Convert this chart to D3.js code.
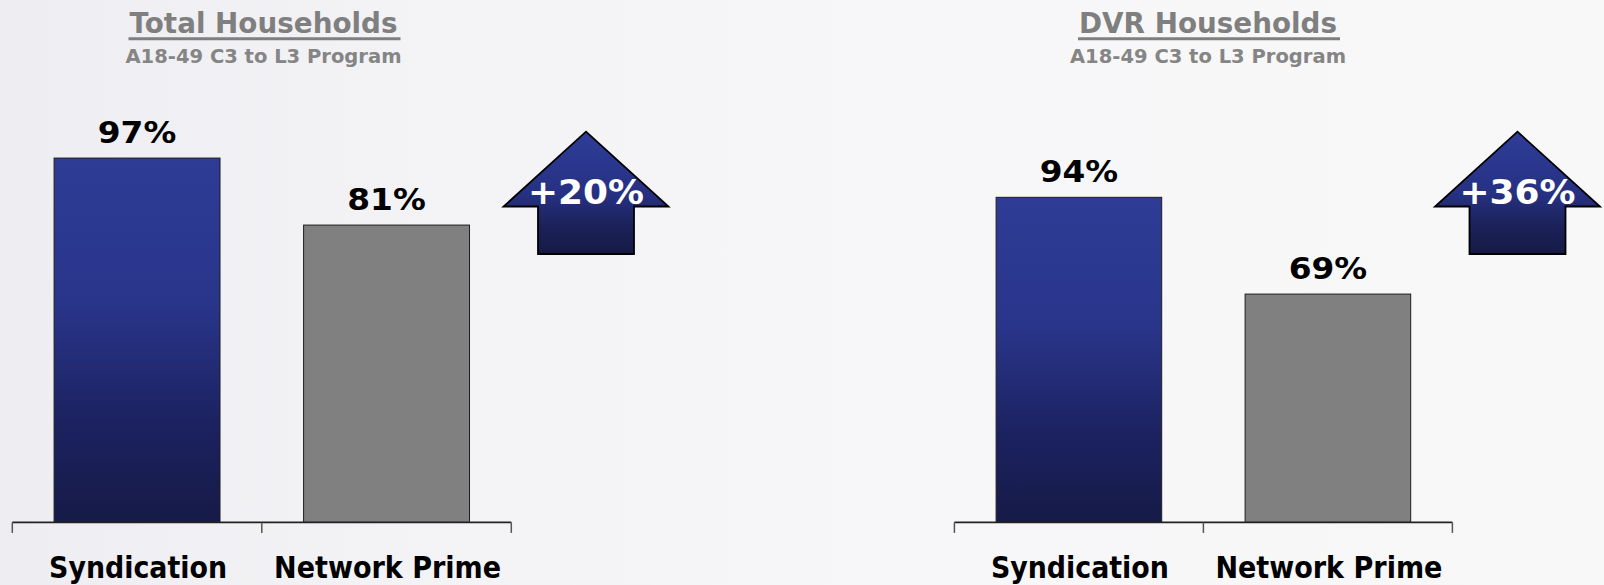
<!DOCTYPE html>
<html>
<head>
<meta charset="utf-8">
<script src="https://cdn.jsdelivr.net/npm/d3@7"></script>
<style>
  html, body { margin: 0; padding: 0; background: #f5f5f7; }
  svg { display: block; }
</style>
</head>
<body>
<svg id="chart" width="1604" height="585"></svg>
<script>
// ---------- data ----------
const categories = ["Syndication", "Network Prime"];
const totalValues = [97, 81];
const dvrValues = [94, 69];
const chartTitles = ["Total Households", "DVR Households"];
const chartSubtitles = ["A18-49 C3 to L3 Program", "A18-49 C3 to L3 Program"];
const changeLabels = ["+20%", "+36%"];
const yDomain = [10, 100];

// ---------- layout / style ----------
const W = 1604, H = 585;
const baseY = 522.4;
const panels = [
  { title: chartTitles[0], sub: chartSubtitles[0], values: totalValues, change: changeLabels[0],
    x0: 12.3, x1: 511.3, yTop: 145.5, titleX: 263.5, titleW: 268, subW: 276, arrowX: 586 },
  { title: chartTitles[1], sub: chartSubtitles[1], values: dvrValues, change: changeLabels[1],
    x0: 954.4, x1: 1452.4, yTop: 174.1, titleX: 1208, titleW: 258, subW: 276, arrowX: 1517.5 }
];
const catWidths = [178, 227];
const FONT = "'DejaVu Sans', Verdana, sans-serif";

const svg = d3.select("#chart");
const defs = svg.append("defs");

const bg = defs.append("linearGradient").attr("id", "bg").attr("x1", 0).attr("x2", 1).attr("y1", 0).attr("y2", 0);
bg.append("stop").attr("offset", "0%").attr("stop-color", "#eeedf1");
bg.append("stop").attr("offset", "25%").attr("stop-color", "#f3f3f6");
bg.append("stop").attr("offset", "60%").attr("stop-color", "#f7f7f9");
bg.append("stop").attr("offset", "100%").attr("stop-color", "#f8f8f8");

const blue = defs.append("linearGradient").attr("id", "blueGrad").attr("x1", 0).attr("x2", 0).attr("y1", 0).attr("y2", 1);
blue.append("stop").attr("offset", "0%").attr("stop-color", "#2e3c96");
blue.append("stop").attr("offset", "40%").attr("stop-color", "#29358a");
blue.append("stop").attr("offset", "72%").attr("stop-color", "#1c2261");
blue.append("stop").attr("offset", "100%").attr("stop-color", "#161a47");

const arrowG = defs.append("linearGradient").attr("id", "arrowGrad").attr("x1", 0).attr("x2", 0).attr("y1", 0).attr("y2", 1);
arrowG.append("stop").attr("offset", "0%").attr("stop-color", "#2f3d98");
arrowG.append("stop").attr("offset", "50%").attr("stop-color", "#263183");
arrowG.append("stop").attr("offset", "78%").attr("stop-color", "#1b2158");
arrowG.append("stop").attr("offset", "100%").attr("stop-color", "#151a44");

svg.append("rect").attr("width", W).attr("height", H).attr("fill", "url(#bg)");

function fit(sel, w) {
  sel.attr("textLength", w).attr("lengthAdjust", "spacingAndGlyphs");
}

panels.forEach((p, pi) => {
  const g = svg.append("g");
  const x = d3.scaleBand().domain(categories).range([p.x0, p.x1])
    .paddingInner(0.335).paddingOuter(0.1675);
  const y = d3.scaleLinear().domain(yDomain).range([baseY, p.yTop]);

  // titles
  const t = g.append("text").attr("x", p.titleX).attr("y", 32.6)
    .attr("text-anchor", "middle").attr("font-family", FONT).attr("font-weight", "bold")
    .attr("font-size", 29).attr("fill", "#7f7f7f").text(p.title);
  fit(t, p.titleW);
  g.append("line").attr("x1", p.titleX - p.titleW / 2 - 1).attr("x2", p.titleX + p.titleW / 2 + 3)
    .attr("y1", 38.8).attr("y2", 38.8).attr("stroke", "#7f7f7f").attr("stroke-width", 3);
  const s = g.append("text").attr("x", p.titleX).attr("y", 63.3)
    .attr("text-anchor", "middle").attr("font-family", FONT).attr("font-weight", "bold")
    .attr("font-size", 19).attr("fill", "#858585").text(p.sub);
  fit(s, p.subW);

  // bars
  g.selectAll("rect.bar").data(p.values).join("rect").attr("class", "bar")
    .attr("x", (d, i) => x(categories[i]))
    .attr("y", d => y(d))
    .attr("width", x.bandwidth())
    .attr("height", d => y(yDomain[0]) - y(d))
    .attr("fill", (d, i) => i === 0 ? "url(#blueGrad)" : "#808080")
    .attr("stroke", "#1e1e1e").attr("stroke-width", 1);

  // value labels
  g.selectAll("text.val").data(p.values).join("text").attr("class", "val")
    .attr("x", (d, i) => x(categories[i]) + x.bandwidth() / 2)
    .attr("y", d => y(d) - 15.5)
    .attr("text-anchor", "middle").attr("font-family", FONT).attr("font-weight", "bold")
    .attr("font-size", 31).attr("fill", "#000")
    .text(d => d + "%")
    .each(function () { fit(d3.select(this), 78.5); });

  // axis
  g.append("line").attr("x1", p.x0).attr("x2", p.x1).attr("y1", baseY).attr("y2", baseY)
    .attr("stroke", "#222").attr("stroke-width", 1.6);
  const tickXs = [p.x0].concat(categories.map(c => x(c) + x.bandwidth() + x.step() * x.paddingInner() / 2));
  tickXs[tickXs.length - 1] = p.x1;
  g.selectAll("line.tick").data(tickXs).join("line").attr("class", "tick")
    .attr("x1", d => d).attr("x2", d => d).attr("y1", baseY).attr("y2", baseY + 10.5)
    .attr("stroke", "#555").attr("stroke-width", 1.5);

  g.selectAll("text.cat").data(categories).join("text").attr("class", "cat")
    .attr("x", d => x(d) + x.bandwidth() / 2 + 1)
    .attr("y", 578.4)
    .attr("text-anchor", "middle").attr("font-family", FONT).attr("font-weight", "bold")
    .attr("font-size", 29.5).attr("fill", "#000")
    .text(d => d)
    .each(function (d, i) { fit(d3.select(this), catWidths[i]); });

  // arrow
  const ax = p.arrowX, tipY = 131.7, headY = 206.5, botY = 254, hw = 82.5, sw = 48;
  const path = d3.path();
  path.moveTo(ax, tipY);
  path.lineTo(ax + hw, headY);
  path.lineTo(ax + sw, headY);
  path.lineTo(ax + sw, botY);
  path.lineTo(ax - sw, botY);
  path.lineTo(ax - sw, headY);
  path.lineTo(ax - hw, headY);
  path.closePath();
  g.append("path").attr("d", path.toString()).attr("fill", "url(#arrowGrad)")
    .attr("stroke", "#000").attr("stroke-width", 1.8).attr("stroke-linejoin", "miter");
  const at = g.append("text").attr("x", ax).attr("y", 204.3)
    .attr("text-anchor", "middle").attr("font-family", FONT).attr("font-weight", "bold")
    .attr("font-size", 34).attr("fill", "#fff").text(p.change);
  fit(at, 116);
});
</script>
</body>
</html>
